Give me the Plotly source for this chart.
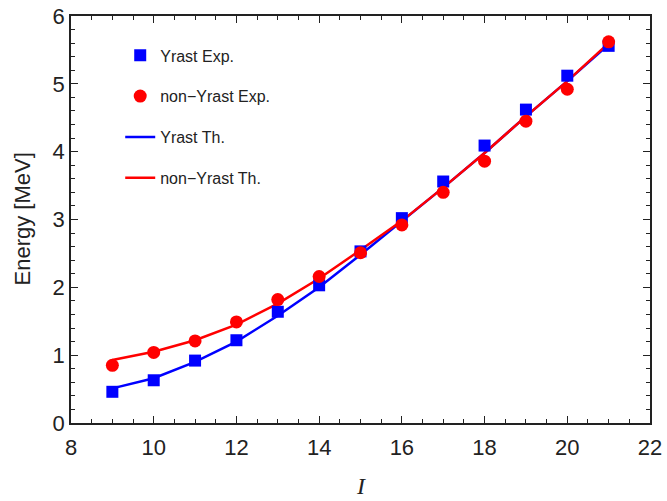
import plotly.graph_objects as go

spin = [9, 10, 11, 12, 13, 14, 15, 16, 17, 18, 19, 20, 21]
yrast_exp = [0.46, 0.63, 0.92, 1.22, 1.64, 2.03, 2.53, 3.02, 3.56, 4.09, 4.62, 5.12, 5.56]
nonyrast_exp = [0.85, 1.04, 1.21, 1.49, 1.82, 2.16, 2.51, 2.92, 3.40, 3.86, 4.45, 4.92, 5.62]
yrast_th = [0.51, 0.66, 0.90, 1.20, 1.58, 2.00, 2.48, 2.97, 3.47, 3.98, 4.52, 5.04, 5.58]
nonyrast_th = [0.93, 1.05, 1.22, 1.45, 1.76, 2.13, 2.55, 2.98, 3.47, 3.98, 4.52, 5.04, 5.60]

x_title = "I"
y_title = "Energy [MeV]"

BLUE = "#0000ff"
RED = "#ff0000"

fig = go.Figure()
fig.add_trace(go.Scatter(x=spin, y=yrast_th, mode="lines", name="Yrast Th.",
                         line=dict(color=BLUE, width=2.5), legendgroup="c", legendrank=3))
fig.add_trace(go.Scatter(x=spin, y=nonyrast_th, mode="lines", name="non\u2212Yrast Th.",
                         line=dict(color=RED, width=2.5), legendgroup="d", legendrank=4))
fig.add_trace(go.Scatter(x=spin, y=yrast_exp, mode="markers", name="Yrast Exp.",
                         marker=dict(symbol="square", color=BLUE, size=12), legendgroup="a", legendrank=1))
fig.add_trace(go.Scatter(x=spin, y=nonyrast_exp, mode="markers", name="non\u2212Yrast Exp.",
                         marker=dict(symbol="circle", color=RED, size=13), legendgroup="b", legendrank=2))

axis_common = dict(
    showline=True, linecolor="#222", linewidth=1.6, mirror="ticks",
    ticks="inside", ticklen=7, tickwidth=1.2, tickcolor="#222",
    showgrid=False, zeroline=False, automargin=False,
    tickfont=dict(family="Liberation Sans, Arial", size=22, color="#222"),
)

fig.update_xaxes(range=[8, 22], dtick=2, tick0=8, ticklabelstandoff=4,
                 minor=dict(ticks="inside", ticklen=4, dtick=0.5, tickcolor="#222", tickwidth=1),
                 **axis_common)
fig.update_yaxes(range=[0, 6], dtick=1, tick0=0,
                 minor=dict(ticks="inside", ticklen=4, dtick=0.2, tickcolor="#222", tickwidth=1),
                 **axis_common)

fig.add_annotation(text="<i>" + x_title + "</i>", xref="paper", yref="paper",
                   x=(361 - 71) / 579, y=(423 - 486) / 407, xanchor="center", yanchor="middle",
                   showarrow=False,
                   font=dict(family="Liberation Serif, Times New Roman", size=24, color="#222"))
fig.add_annotation(text=y_title, xref="paper", yref="paper", textangle=-90,
                   x=(22 - 71) / 579, y=0.5, xanchor="center", yanchor="middle",
                   showarrow=False,
                   font=dict(family="Liberation Sans, Arial", size=22, color="#222"))

fig.update_layout(
    width=667, height=501,
    margin=dict(l=71, r=17, t=16, b=78),
    plot_bgcolor="white", paper_bgcolor="white",
    showlegend=True,
    legend=dict(x=0.085, y=0.945, xanchor="left", yanchor="top",
                bgcolor="rgba(0,0,0,0)", tracegroupgap=17,
                font=dict(family="Liberation Sans, Arial", size=16, color="#222")),
)

fig.write_html("out.html")
